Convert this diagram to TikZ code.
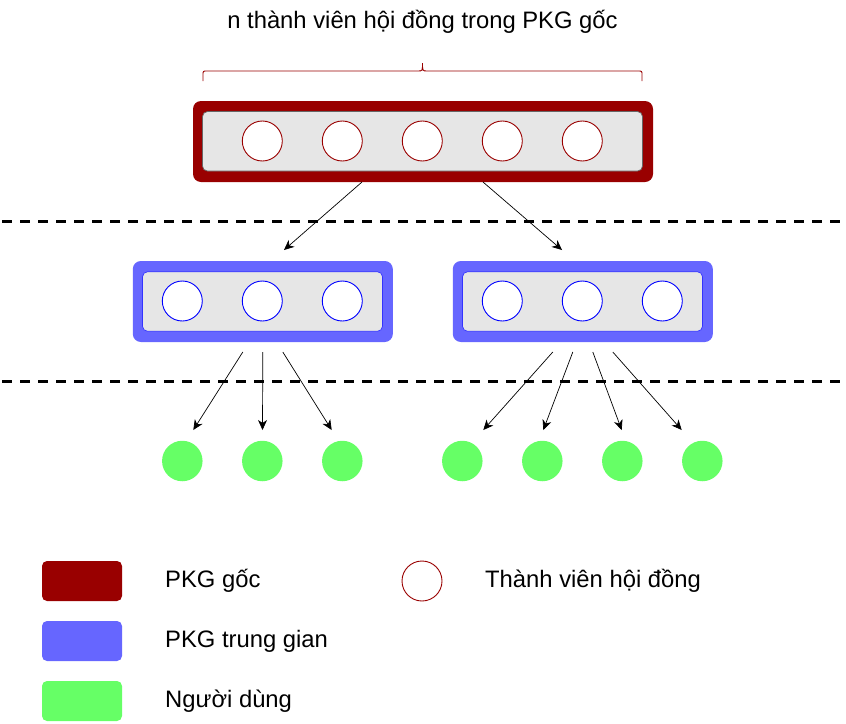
\documentclass[tikz,border=0pt]{standalone}
\usepackage{fontspec}
\setmainfont{Liberation Sans}
\usetikzlibrary{arrows.meta,calc}
\definecolor{rootred}{HTML}{990000}
\definecolor{midblue}{HTML}{6666FF}
\definecolor{userg}{HTML}{66FF66}
\definecolor{panel}{HTML}{E6E6E6}
\definecolor{panelline}{HTML}{666666}
\definecolor{memblue}{HTML}{0000FF}
\definecolor{panelblue}{HTML}{3333FF}
\begin{document}
\begin{tikzpicture}[x=1pt,y=-1pt,
  txt/.style={font=\fontsize{23.8}{28}\selectfont, inner sep=0pt, anchor=base west},
  outerbox/.style={rectangle, rounded corners=8pt, inner sep=0pt, outer sep=0pt, minimum height=81pt},
  innerbox/.style={rectangle, rounded corners=5pt, fill=panel, inner sep=0pt, outer sep=0pt, minimum height=59.5pt, line width=0.7pt},
  member/.style={circle, fill=white, minimum size=40pt, inner sep=0pt, line width=0.9pt},
  user/.style={circle, fill=userg, minimum size=40.5pt, inner sep=0pt},
  link/.style={line width=0.7pt, -{Stealth[length=10pt,width=9pt,inset=3pt]}},
  sep/.style={line width=3pt, dash pattern=on 9.5pt off 8.5pt},
  keybox/.style={rectangle, rounded corners=5pt, minimum width=80pt, minimum height=40pt, inner sep=0pt}
]
\useasboundingbox (0,0) rectangle (846,723);

% heading and brace over the root group
\node[txt, anchor=base] (title) at (422.5,28.3) {n thành viên hội đồng trong PKG gốc};
\draw[rootred, line width=0.9pt] (203,81) -- (203,75) .. controls (203,71) .. (207,71)
  -- (418,71) .. controls (422.5,71) .. (422.5,63)
  .. controls (422.5,71) .. (427,71) -- (638,71) .. controls (642,71) .. (642,75) -- (642,81);

% separators between levels
\draw[sep] (2,221) -- (846,221);
\draw[sep] (2,381.3) -- (846,381.3);

% root group
\node[outerbox, fill=rootred, minimum width=460pt] (root) at (423,141.5) {};
\node[innerbox, draw=panelline, minimum width=440pt] (rootin) at (422.5,141.3) {};
\foreach \i in {0,...,4}
  \node[member, draw=rootred] (m\i) at (262.3+80*\i,141) {};

% intermediate groups
\node[outerbox, fill=midblue, minimum width=260pt] (midA) at (262.8,301.5) {};
\node[innerbox, draw=panelblue, minimum width=240pt] (midAin) at (262.5,301.5) {};
\node[outerbox, fill=midblue, minimum width=260pt] (midB) at (582.8,301.5) {};
\node[innerbox, draw=panelblue, minimum width=240pt] (midBin) at (582.5,301.5) {};
\foreach \i in {0,1,2} {
  \node[member, draw=memblue] (a\i) at (182.3+80*\i,301) {};
  \node[member, draw=memblue] (b\i) at (502.3+80*\i,301) {};
}

% users
\foreach \i in {0,1,2}
  \node[user] (ua\i) at (182.3+80*\i,461) {};
\foreach \i in {0,...,3}
  \node[user] (ub\i) at (462.3+80*\i,461) {};

% connector end points
\coordinate (rs1) at ($(root.south)+(-61,0)$);
\coordinate (rs2) at ($(root.south)+(60,0)$);
\coordinate (te1) at (284,250);
\coordinate (te2) at (562,250);
\draw[link] (rs1) -- (te1);
\draw[link] (rs2) -- (te2);

\coordinate (as0) at ($(midA.south)+(-20,10)$);
\coordinate (as1) at ($(midA.south)+(0,10)$);
\coordinate (as2) at ($(midA.south)+(20,10)$);
\coordinate (ae0) at (193.3,430);
\coordinate (ae1) at (262.5,430);
\coordinate (ae2) at (331.7,430);
\foreach \i in {0,1,2} \draw[link] (as\i) -- (ae\i);

\coordinate (bs0) at ($(midB.south)+(-30,10)$);
\coordinate (bs1) at ($(midB.south)+(-10,10)$);
\coordinate (bs2) at ($(midB.south)+(10,10)$);
\coordinate (bs3) at ($(midB.south)+(30,10)$);
\coordinate (be0) at (483.3,430);
\coordinate (be1) at (543.3,430);
\coordinate (be2) at (621.7,430);
\coordinate (be3) at (681.7,430);
\foreach \i in {0,...,3} \draw[link] (bs\i) -- (be\i);

% legend
\node[keybox, fill=rootred] (k1) at (82,581) {};
\node[keybox, fill=midblue] (k2) at (82,641) {};
\node[keybox, fill=userg] (k3) at (82,701) {};
\node[member, draw=rootred] (k4) at (422,581) {};
\node[txt] (l1) at (165,587.3) {PKG gốc};
\node[txt] (l2) at (165,647.3) {PKG trung gian};
\node[txt] (l3) at (165,707.3) {Người dùng};
\node[txt] (l4) at (485,587.3) {Thành viên hội đồng};
\end{tikzpicture}
\end{document}
